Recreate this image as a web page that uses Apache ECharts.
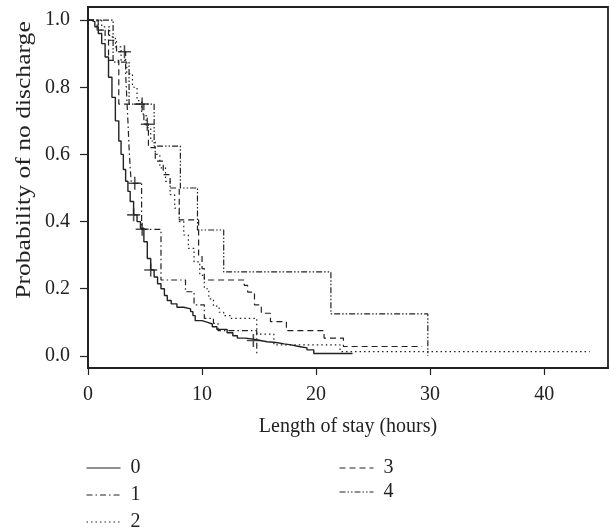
<!DOCTYPE html>
<html>
<head>
<meta charset="utf-8">
<script src="https://cdn.jsdelivr.net/npm/echarts@6/dist/echarts.min.js"></script>
<style>
  html, body { margin: 0; padding: 0; background: #fff; }
  #chart { width: 610px; height: 529px; }
</style>
</head>
<body>
<div id="chart"></div>
<script>
// Kaplan-Meier steps: [time (hours), survival]
const group0 = [[0,1],[0.3,0.995],[0.6,0.98],[0.9,0.96],[1.2,0.93],[1.5,0.89],[1.8,0.83],[2.1,0.77],[2.4,0.70],[2.7,0.64],[2.9,0.60],[3.1,0.555],[3.3,0.52],[3.5,0.49],[3.7,0.46],[4.0,0.42],[4.3,0.40],[4.6,0.38],[4.9,0.34],[5.2,0.29],[5.5,0.256],[5.8,0.235],[6.1,0.215],[6.4,0.2],[6.7,0.18],[6.95,0.165],[7.3,0.155],[7.8,0.145],[8.4,0.14],[9.0,0.132],[9.2,0.12],[9.4,0.105],[10.0,0.1],[10.5,0.095],[10.9,0.087],[11.3,0.079],[12.2,0.069],[12.7,0.06],[13.1,0.053],[13.8,0.05],[14.5,0.046],[15.1,0.042],[15.7,0.04],[16.5,0.036],[17.2,0.033],[17.8,0.028],[18.5,0.024],[19.2,0.018],[19.8,0.007],[23.2,0.007]]
const group1 = [[0,1],[0.8,0.97],[1.5,0.94],[2.5,0.906],[3.3,0.84],[3.4,0.77],[3.5,0.70],[3.6,0.62],[3.7,0.56],[3.8,0.514],[4.7,0.377],[6.4,0.226],[8.55,0.191],[9.3,0.152],[10.2,0.112],[11.0,0.097],[11.4,0.075],[14.8,0]]
const group2 = [[0,1],[1.2,0.98],[1.9,0.95],[2.4,0.92],[2.9,0.88],[3.4,0.84],[3.9,0.8],[4.3,0.76],[4.7,0.72],[5.1,0.68],[5.5,0.64],[5.9,0.6],[6.3,0.56],[6.8,0.52],[7.2,0.48],[7.6,0.44],[8.0,0.40],[8.4,0.36],[8.8,0.32],[9.3,0.28],[9.8,0.24],[10.2,0.2],[10.6,0.17],[11.0,0.148],[11.5,0.13],[11.9,0.12],[12.5,0.112],[14.8,0.065],[16.3,0.033],[22.1,0.013],[44,0.013]]
const group3 = [[0,1],[0.9,0.97],[1.8,0.88],[2.7,0.75],[4.9,0.69],[5.3,0.62],[5.9,0.58],[6.6,0.54],[7.2,0.5],[8.0,0.405],[9.7,0.3],[10.0,0.26],[10.2,0.226],[13.7,0.21],[14.0,0.19],[14.6,0.152],[15.2,0.127],[16.0,0.102],[17.4,0.075],[20.7,0.053],[22.4,0.028],[29.3,0.028]]
const group4 = [[0,1],[2.2,0.875],[3.6,0.75],[5.8,0.625],[8.1,0.5],[9.6,0.375],[11.9,0.25],[21.3,0.125],[29.8,0]]

// censored observations (+)
const censor0 = [[4.0,0.42],[5.5,0.256],[14.5,0.046]]
const censor1 = [[3.2,0.906],[4.1,0.514],[4.75,0.377]]
const censor3 = [[4.75,0.75],[5.2,0.69]]

const groupNames = ['0', '1', '2', '3', '4']
const xTicks = [0, 10, 20, 30, 40]
const yTicks = [0, 0.2, 0.4, 0.6, 0.8, 1.0]

const chart = echarts.init(document.getElementById('chart'))
const ink = '#222'
const font = 'Liberation Serif'
const dashes = ['solid', [6, 3, 1.5, 3], [1.5, 3], [6, 4], [6, 2, 1.5, 2, 1.5, 2]]
const groups = [group0, group1, group2, group3, group4]
const plus = 'path://M4.4,0H5.6V4.4H10V5.6H5.6V10H4.4V5.6H0V4.4H4.4Z'

let series = groups.map((g, i) => ({
  name: groupNames[i],
  type: 'line',
  step: 'end',
  symbol: 'none',
  data: g,
  lineStyle: { color: ink, width: i === 0 ? 1.4 : 1.2, type: dashes[i] },
  itemStyle: { color: ink },
  animation: false,
}))
;[censor0, censor1, censor3].forEach((c, i) => {
  series.push({
    name: 'censor' + i,
    type: 'scatter',
    symbol: plus,
    symbolSize: 13,
    data: c,
    itemStyle: { color: ink },
    animation: false,
  })
})

// one legend block per entry, placed like the original two-column key
const legendPos = [[81, 453], [81, 480], [81, 507], [334, 453], [334, 477]]
const legends = groupNames.map((n, i) => ({
  data: [n],
  left: legendPos[i][0], top: legendPos[i][1],
  itemWidth: 34, itemHeight: 14,
  itemStyle: { opacity: 0 },
  lineStyle: { width: 1 },
  textStyle: { fontFamily: font, fontSize: 20, color: ink, padding: [0, 0, 0, 5] },
}))

const option = {
  backgroundColor: '#fff',
  grid: {
    left: 88, top: 7, width: 520, height: 361,
    show: true, borderColor: '#222', borderWidth: 1.8,
  },
  xAxis: {
    type: 'value',
    min: 0, max: 45.6, interval: 10,
    name: 'Length of stay (hours)',
    nameLocation: 'middle', nameGap: 49,
    nameTextStyle: { fontFamily: font, fontSize: 20, color: ink },
    axisLine: { show: true, onZero: false, lineStyle: { color: '#222', width: 1.8 } },
    axisTick: { show: true, length: 7, lineStyle: { color: '#222', width: 1.2 }, customValues: xTicks },
    axisLabel: { fontFamily: font, fontSize: 20, color: ink, margin: 17, customValues: xTicks },
    splitLine: { show: false },
  },
  yAxis: {
    type: 'value',
    min: -0.036, max: 1.039,
    axisLine: { show: true, onZero: false, lineStyle: { color: '#222', width: 1.8 } },
    axisTick: { show: true, length: 8, lineStyle: { color: '#222', width: 1.2 }, customValues: yTicks },
    axisLabel: {
      fontFamily: font, fontSize: 20, color: ink, margin: 18, customValues: yTicks,
      formatter: v => v.toFixed(1),
    },
    splitLine: { show: false },
  },
  legend: legends,
  graphic: [{
    type: 'text', x: 25, y: 160, rotation: Math.PI / 2, scaleX: 1.28,
    style: {
      text: 'Probability of no discharge', fill: ink,
      font: '20px "Liberation Serif"', textAlign: 'center', textVerticalAlign: 'middle',
    },
  }],
  series: series,
}
chart.setOption(option)
</script>
</body>
</html>
